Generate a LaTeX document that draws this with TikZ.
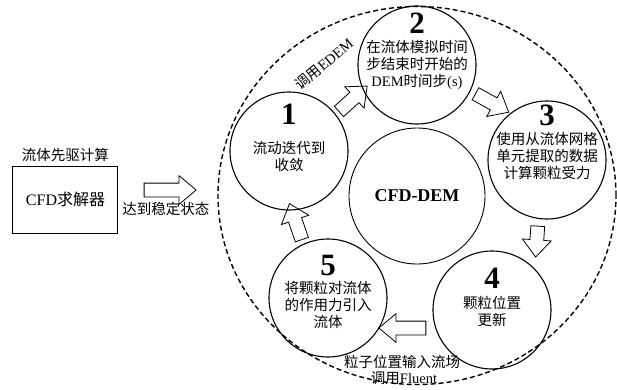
\documentclass[tikz,border=0pt]{standalone}
\usepackage{fontspec}
\setmainfont{Liberation Serif}
\newfontfamily\cjk{Noto Sans CJK SC}
\newcommand{\zh}[1]{{\cjk #1}}
\usetikzlibrary{shapes.arrows, positioning}
\tikzset{
	stepcircle/.style={circle, draw, line width=1.1pt, minimum size=118pt, inner sep=0pt},
	steptext/.style={align=center, font=\fontsize{14.5}{17}\selectfont, inner sep=0pt},
	stepnum/.style={font=\fontsize{31}{31}\selectfont\bfseries, inner sep=0pt},
	plain/.style={font=\fontsize{14.5}{17}\selectfont, inner sep=0pt},
	flowarrow/.style={single arrow, draw, line width=0.8pt, inner xsep=0pt, inner ysep=6.5pt,
		single arrow head extend=7.5pt, single arrow tip angle=80, minimum height=#1},
	flowarrow/.default=38pt
}
\begin{document}
\begin{tikzpicture}[x=1pt, y=1pt]
	\useasboundingbox (-417, -193) rectangle (200, 196);

	\draw[line width=1.4pt, dash pattern=on 5pt off 3pt]	(0, 0.5) ellipse [x radius=199pt, y radius=189pt];

	\node[circle, draw, line width=0.9pt, minimum size=136pt, font=\fontsize{18}{18}\selectfont\bfseries] (core) at (0, 0) {CFD-DEM};

	% the five steps
	\node[stepcircle] (c1) at (-128, 45) {};
	\node[stepnum] at ([yshift=37pt]c1.center) {1};
	\node[steptext] at ([yshift=-5pt]c1.center) {\zh{流动迭代到}\\\zh{收敛}};

	\node[stepcircle] (c2) at (0, 131) {};
	\node[stepnum] at ([yshift=42pt]c2.center) {2};
	\node[steptext] at (c2.center) {\zh{在流体模拟时间}\\\zh{步结束时开始的}\\DEM\zh{时间步}(s)};

	\node[stepcircle] (c3) at (130, 36) {};
	\node[stepnum] at ([yshift=45pt]c3.center) {3};
	\node[steptext] at ([yshift=4pt]c3.center) {\zh{使用从流体网格}\\\zh{单元提取的数据}\\\zh{计算颗粒受力}};

	\node[stepcircle] (c4) at (75, -114) {};
	\node[stepnum] at ([yshift=32pt]c4.center) {4};
	\node[steptext] at ([yshift=-1.5pt]c4.center) {\zh{颗粒位置}\\\zh{更新}};

	\node[stepcircle] (c5) at (-89, -102) {};
	\node[stepnum] at ([yshift=33pt]c5.center) {5};
	\node[steptext] at ([yshift=-7pt]c5.center) {\zh{将颗粒对流体}\\\zh{的作用力引入}\\\zh{流体}};

	% block arrows between the steps
	\node[flowarrow, rotate=42] (a12) at (-67, 94.5) {};
	\node[flowarrow, rotate=-29] (a23) at (71.5, 95) {};
	\node[flowarrow=31pt, rotate=-94] (a34) at (120, -41.5) {};
	\node[flowarrow=47pt, rotate=180] (a45) at (-10.5, -132) {};
	\node[flowarrow, rotate=109] (a51) at (-120, -29.5) {};

	\node[plain, rotate=40] (callem) at (-93, 132) {\zh{调用}EDEM};
	\node[plain] (inject) at (-15, -166) {\zh{粒子位置输入流场}};
	\node[plain] (callfl) at (-13, -182) {\zh{调用}Fluent};

	% precursor solver
	\node[draw, line width=1pt, minimum width=105pt, minimum height=67pt, font=\fontsize{16}{16}\selectfont] (solver) at (-351.5, -3.5) {CFD\zh{求解器}};
	\node[plain, above=4pt of solver] (pre) {\zh{流体先驱计算}};
	\node[flowarrow=52pt] (feed) at (-251, 6) {};
	\node[plain, below=5pt of feed] (steady) {\zh{达到稳定状态}};
\end{tikzpicture}
\end{document}
